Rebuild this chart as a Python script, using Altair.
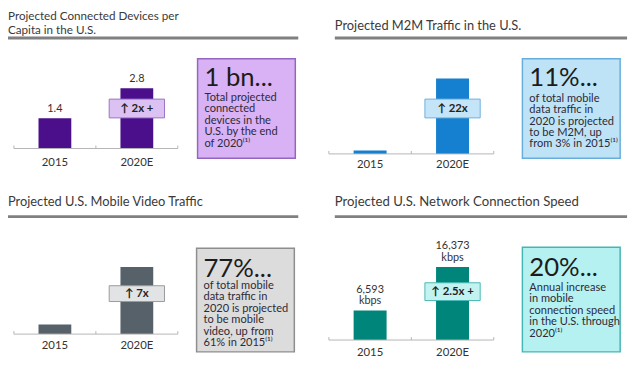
import altair as alt
import pandas as pd

# ---------------- data ----------------
categories = ["2015", "2020E"]
devices_per_capita = [1.4, 2.8]
device_labels = ["1.4", "2.8"]
m2m_traffic_index = [1, 22]
video_traffic_index = [1, 7]
speed_kbps = [6593, 16373]
speed_labels = ["6,593\nkbps", "16,373\nkbps"]

titles = [
    "Projected Connected Devices per\nCapita in the U.S.",
    "Projected M2M Traffic in the U.S.",
    "Projected U.S. Mobile Video Traffic",
    "Projected U.S. Network Connection Speed",
]
badges = ["↑ 2x +", "↑ 22x", "↑ 7x", "↑ 2.5x +"]
headlines = ["1 bn...", "11%...", "77%...", "20%..."]
bodies = [
    "Total projected\nconnected\ndevices in the\nU.S. by the end\nof 2020⁽¹⁾",
    "of total mobile\ndata traffic in\n2020 is projected\nto be M2M, up\nfrom 3% in 2015⁽¹⁾",
    "of total mobile\ndata traffic in\n2020 is projected\nto be mobile\nvideo, up from\n61% in 2015⁽¹⁾",
    "Annual increase\nin mobile\nconnection speed\nin the U.S. through\n2020⁽¹⁾",
]

FONT = "Lato"
one = pd.DataFrame({"k": [0]})


def panel(i, values, labels, s):
    df = pd.DataFrame({
        "cat": categories,
        "value": values,
        "label": labels if labels else ["", ""],
        "badge": ["", badges[i]],
    })
    x = alt.X("cat:N", sort=categories, axis=None,
              scale=alt.Scale(domain=categories, range=s["xr"],
                              paddingInner=0.6, paddingOuter=0.3))
    y = alt.Y("value:Q", axis=None,
              scale=alt.Scale(domain=[0, max(values)], range=s["yr"],
                              nice=False, zero=True))
    base = alt.Chart(df)
    layers = []
    # title + rule
    layers.append(alt.Chart(one).mark_text(
        align="left", baseline="alphabetic", font=FONT, fontSize=s["tfs"],
        lineBreak="\n", lineHeight=14, color="#3a3a3a").encode(
        x=alt.value(s["tx"]), y=alt.value(s["ty"]), text=alt.value(titles[i])))
    layers.append(alt.Chart(one).mark_rule(strokeWidth=3, color="#808080").encode(
        x=alt.value(s["rx"][0]), x2=alt.value(s["rx"][1]), y=alt.value(s["ry"])))
    # bars
    layers.append(base.mark_bar(color=s["bar"]).encode(x=x, y=y))
    if labels:
        layers.append(base.mark_text(
            baseline="alphabetic", dy=s["vdy"], font=FONT, fontSize=11,
            lineBreak="\n", lineHeight=11.5, color="#333333").encode(
            x=x, y=y, text="label:N"))
    # axis line and ticks
    base_y = s["yr"][0]
    layers.append(alt.Chart(one).mark_rule(strokeWidth=1, color="#b5b5b5").encode(
        x=alt.value(s["xr"][0]), x2=alt.value(s["xr"][1]), y=alt.value(base_y)))
    for tx in (s["xr"][0], (s["xr"][0] + s["xr"][1]) / 2, s["xr"][1]):
        layers.append(alt.Chart(one).mark_rule(strokeWidth=1, color="#b5b5b5").encode(
            x=alt.value(tx), y=alt.value(base_y - 3), y2=alt.value(base_y)))
    layers.append(base.mark_text(
        baseline="alphabetic", font=FONT, fontSize=11.5, color="#333333").encode(
        x=x, y=alt.value(s["ly"]), text="cat:N"))
    # badge
    bdf = base.transform_filter(alt.datum.cat == "2020E")
    layers.append(bdf.mark_bar(width=56, fill=s["bfill"], stroke=s["bstroke"],
                               strokeWidth=1).encode(
        x=x, y=alt.value(s["by"][0]), y2=alt.value(s["by"][1])))
    layers.append(bdf.mark_text(
        baseline="middle", font=FONT, fontSize=11.5, fontWeight="bold",
        color="#222222").encode(
        x=x, y=alt.value((s["by"][0] + s["by"][1]) / 2 + 0.5), text="badge:N"))
    # callout
    cx0, cx1 = s["cx"]
    cy0, cy1 = s["cy"]
    layers.append(alt.Chart(one).mark_rect(
        fill=s["cfill"], stroke=s["cstroke"], strokeWidth=1.5).encode(
        x=alt.value(cx0), x2=alt.value(cx1), y=alt.value(cy0), y2=alt.value(cy1)))
    layers.append(alt.Chart(one).mark_text(
        align="left", baseline="alphabetic", font=FONT, fontSize=26,
        color="#1c1c1c").encode(
        x=alt.value(cx0 + 7), y=alt.value(s["hy"]), text=alt.value(headlines[i])))
    layers.append(alt.Chart(one).mark_text(
        align="left", baseline="alphabetic", font=FONT, fontSize=11.2,
        lineBreak="\n", lineHeight=s["lh"], color="#2e2a36").encode(
        x=alt.value(cx0 + 7), y=alt.value(s["body_y"]), text=alt.value(bodies[i])))
    return alt.layer(*layers)


p1 = panel(0, devices_per_capita, device_labels, dict(
    tx=0, ty=10, tfs=11.8, rx=(0, 294), ry=28, xr=[6, 172], yr=[140, 79], ly=158,
    vdy=-6,
    bar="#4b0f8c", bfill="#dcc2f2", bstroke="#9a74c4", by=(90, 109),
    cfill="#d8b2f5", cstroke="#9466c0", cx=(192, 291), cy=(49, 150),
    hy=77, body_y=92, lh=11.5))
p2 = panel(1, m2m_traffic_index, None, dict(
    tx=331, ty=20, tfs=13, rx=(331, 627), ry=28, xr=[325, 492], yr=[145.5, 69],
    ly=160, vdy=-6,
    bar="#1580cf", bfill="#c4e5f8", bstroke="#6fb0da", by=(90, 109),
    cfill="#bee3f7", cstroke="#67aedc", cx=(521, 620), cy=(49, 150),
    hy=77, body_y=93, lh=11.5))
p3 = panel(2, video_traffic_index, None, dict(
    tx=0, ty=198, tfs=13, rx=(0, 294), ry=209, xr=[6, 172], yr=[328, 260],
    ly=343, vdy=-6,
    bar="#56616a", bfill="#e2e3e4", bstroke="#9a9a9a", by=(279, 295),
    cfill="#dcdcdd", cstroke="#8e8e8e", cx=(191, 290), cy=(241, 346),
    hy=270, body_y=282, lh=11.6))
p4 = panel(3, speed_kbps, speed_labels, dict(
    tx=331, ty=198, tfs=13.3, rx=(331, 627), ry=209, xr=[325, 492],
    yr=[334, 260], ly=350, vdy=-18,
    bar="#00857a", bfill="#c2f3f1", bstroke="#48b9b6", by=(276, 294),
    cfill="#b6f1f1", cstroke="#45b6b4", cx=(521, 620), cy=(240, 346),
    hy=269, body_y=284, lh=11.75))

chart = alt.layer(p1, p2, p3, p4).resolve_scale(
    x="independent", y="independent"
).properties(
    width=632, height=357, padding=0,
    autosize=alt.AutoSizeParams(type="none"),
).configure_view(stroke=None)

chart.save("out.html", embed_options={"renderer": "svg", "actions": False})
